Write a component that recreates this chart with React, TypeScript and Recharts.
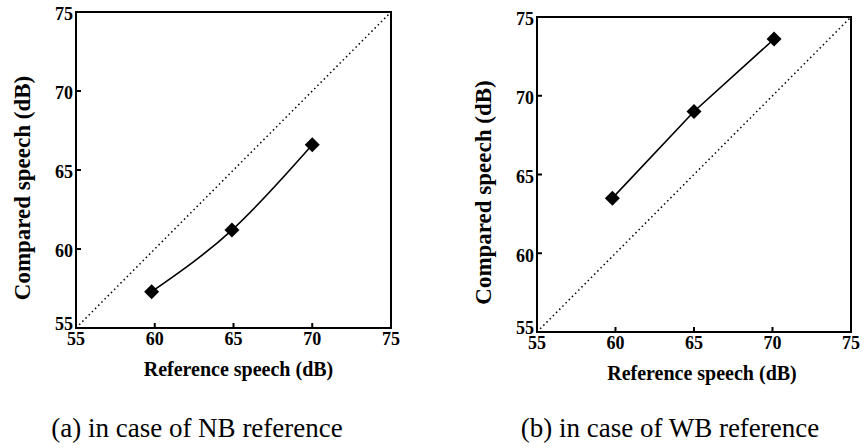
import React from 'react';
import { ComposedChart, Line, XAxis, YAxis, ReferenceArea, ReferenceLine, Label } from 'recharts';

// axis ticks (dB)
const axisTicks = [55, 60, 65, 70, 75];

// (a) NB reference
const nbReference = [59.8, 64.9, 70.0];
const nbCompared = [57.3, 61.2, 66.6];

// (b) WB reference
const wbReference = [59.8, 65.0, 70.1];
const wbCompared = [63.5, 69.0, 73.6];

const serif = '"Liberation Serif", "Times New Roman", serif';
const tickFont = { fontFamily: serif, fontWeight: 700, fontSize: 18 };

const Diamond = (props: any) => {
    const { cx, cy } = props;
    if (cx == null || cy == null) return null;
    const r = 7.5;
    return <polygon points={`${cx},${cy - r} ${cx + r},${cy} ${cx},${cy + r} ${cx - r},${cy}`} fill="#000" />;
};

const XTick = (props: any) => {
    const { x, y, payload } = props;
    return (
        <text x={x} y={y} dy="0.71em" textAnchor="middle" fill="#000" style={tickFont}>
            {payload.value}
        </text>
    );
};

const YTick = (props: any) => {
    const { x, y, payload } = props;
    // lowest label sits a little above the corner, as in the original
    const shift = payload.value === 55 ? -4 : 2;
    return (
        <text x={x} y={y + shift} dy="0.35em" textAnchor="end" fill="#000" style={tickFont}>
            {payload.value}
        </text>
    );
};

type PanelProps = {
    left: number;
    width: number;
    yWidth: number;
    margin: { top: number; right: number; bottom: number; left: number };
    xs: number[];
    ys: number[];
    curve: 'monotone' | 'linear';
    caption: string;
    captionX: number;
    yLabelX: number;
    yLabelShift: number;
    xLabelShift: number;
};

const Panel: React.FC<PanelProps> = ({ left, width, yWidth, margin, xs, ys, curve, caption, captionX, yLabelX, yLabelShift, xLabelShift }) => {
    const data = xs.map((x, i) => ({ x, y: ys[i] }));
    return (
        <div style={{ position: 'absolute', left, top: 0, width, height: 448 }}>
            <ComposedChart width={width} height={448} data={data} margin={margin}>
                <XAxis
                    type="number"
                    dataKey="x"
                    domain={[55, 75]}
                    ticks={axisTicks}
                    allowDataOverflow
                    height={50}
                    axisLine={false}
                    tickLine={{ stroke: '#000', strokeWidth: 2 }}
                    tickSize={-5}
                    tickMargin={9}
                    tick={<XTick />}
                >
                    <Label
                        content={({ viewBox }: any) => (
                            <text
                                x={viewBox.x + viewBox.width / 2 + xLabelShift}
                                y={viewBox.y + 48}
                                textAnchor="middle"
                                fill="#000"
                                style={{ fontFamily: serif, fontWeight: 700, fontSize: 20 }}
                            >
                                Reference speech (dB)
                            </text>
                        )}
                    />
                </XAxis>
                <YAxis
                    type="number"
                    dataKey="y"
                    domain={[55, 75]}
                    ticks={axisTicks}
                    allowDataOverflow
                    width={yWidth}
                    axisLine={false}
                    tickLine={{ stroke: '#000', strokeWidth: 2 }}
                    tickSize={-5}
                    tickMargin={8}
                    tick={<YTick />}
                >
                    <Label
                        content={({ viewBox }: any) => {
                            const cx = viewBox.x + yLabelX;
                            const cy = viewBox.y + viewBox.height / 2 + yLabelShift;
                            return (
                                <text
                                    x={cx}
                                    y={cy}
                                    transform={`rotate(-90, ${cx}, ${cy})`}
                                    textAnchor="middle"
                                    dominantBaseline="central"
                                    fill="#000"
                                    style={{ fontFamily: serif, fontWeight: 700, fontSize: 23 }}
                                >
                                    Compared speech (dB)
                                </text>
                            );
                        }}
                    />
                </YAxis>
                <ReferenceLine
                    segment={[{ x: 55, y: 55 }, { x: 75, y: 75 }]}
                    stroke="#000"
                    strokeWidth={1.5}
                    strokeDasharray="1.5 3"
                />
                <ReferenceArea x1={55} x2={75} y1={55} y2={75} fill="none" stroke="#000" strokeWidth={2} />
                <Line
                    type={curve}
                    dataKey="y"
                    stroke="#000"
                    strokeWidth={1.6}
                    dot={<Diamond />}
                    activeDot={false}
                    isAnimationActive={false}
                />
            </ComposedChart>
            <div
                style={{
                    position: 'absolute',
                    left: captionX - 200,
                    width: 400,
                    top: 412,
                    textAlign: 'center',
                    fontFamily: serif,
                    fontSize: 27,
                    lineHeight: '32px',
                    color: '#000',
                    whiteSpace: 'nowrap',
                }}
            >
                {caption}
            </div>
        </div>
    );
};

const App: React.FC = () => {
    return (
        <div style={{ position: 'absolute', left: 0, top: 0, width: 865, height: 448, background: '#fff' }}>
            <Panel
                left={0}
                width={420}
                yWidth={76}
                margin={{ top: 12, right: 29, bottom: 70, left: 0 }}
                xs={nbReference}
                ys={nbCompared}
                curve="monotone"
                caption="(a) in case of NB reference"
                captionX={197}
                yLabelX={22}
                yLabelShift={18}
                xLabelShift={5}
            />
            <Panel
                left={440}
                width={425}
                yWidth={97}
                margin={{ top: 17, right: 14, bottom: 66, left: 0 }}
                xs={wbReference}
                ys={wbCompared}
                curve="linear"
                caption="(b) in case of WB reference"
                captionX={230}
                yLabelX={43}
                yLabelShift={18}
                xLabelShift={8}
            />
        </div>
    );
};

export default App;
